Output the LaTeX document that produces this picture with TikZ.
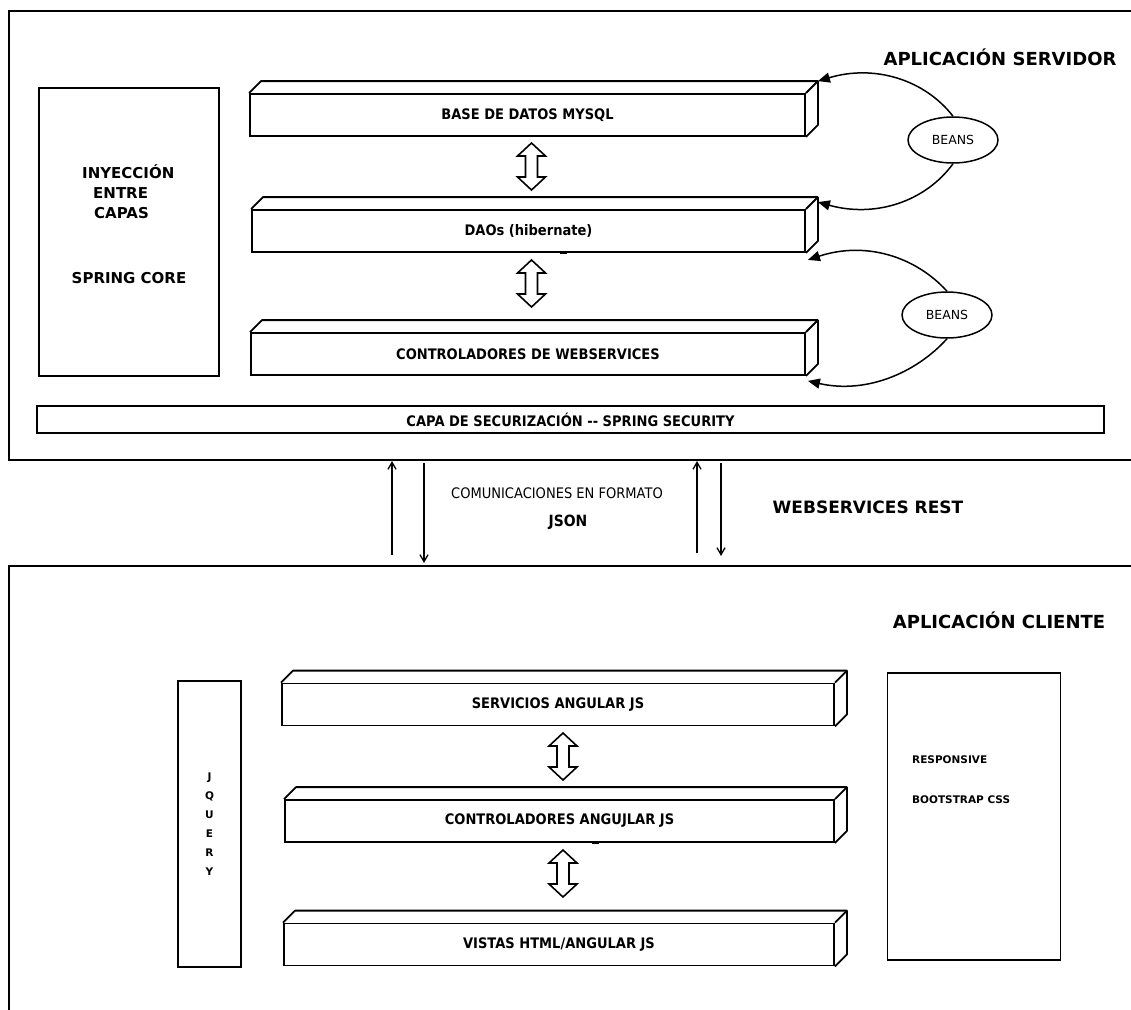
\documentclass[tikz,border=0pt]{standalone}
\usepackage{fontspec}
\setmainfont{DejaVu Sans}
\newfontfamily\condfont[FakeStretch=0.9]{DejaVu Sans}
\usetikzlibrary{arrows.meta,calc,shapes.geometric}
\newcommand{\slabbox}[5]{%
  \node[slab, minimum width=#4] (#1) at (#2,#3) {#5};
  \draw[slabline] (#1.north west) -- ++(12,-12) coordinate (#1-bl)
     -- ([shift={(12,-12)}]#1.north east) coordinate (#1-tr)
     -- ([shift={(12,-12)}]#1.south east) coordinate (#1-br)
     -- (#1.south east);
  \draw[slabline] (#1.north east) -- (#1-tr);
}
\newcommand{\dblarrow}[3]{%
  \draw[dblar] (#1,#2) -- (#1+14,#2+13) -- (#1+6,#2+13) -- (#1+6,#3-13) -- (#1+14,#3-13)
    -- (#1,#3) -- (#1-14,#3-13) -- (#1-6,#3-13) -- (#1-6,#2+13) -- (#1-14,#2+13) -- cycle;
}
\begin{document}
\begin{tikzpicture}[x=1pt,y=-1pt,
  outer/.style={line width=2.2pt},
  slab/.style={draw, line width=1.8pt, minimum height=42pt, inner sep=0pt, fill=white,
     font=\condfont\bfseries\fontsize{14.5pt}{16pt}\selectfont},
  slabline/.style={line width=1.8pt, line join=round},
  plainbox/.style={draw, line width=1.8pt, inner sep=0pt},
  lbl/.style={inner sep=0pt, font=\bfseries\fontsize{15pt}{18pt}\selectfont},
  small/.style={inner sep=0pt, font=\bfseries\fontsize{10.5pt}{19pt}\selectfont},
  title/.style={inner sep=0pt, font=\bfseries\fontsize{18pt}{21pt}\selectfont},
  beans/.style={ellipse, draw, line width=1.5pt, minimum width=90pt, minimum height=46pt,
     inner sep=0pt, font=\fontsize{12.5pt}{14pt}\selectfont},
  beanarc/.style={line width=1.5pt, -{Triangle[length=12pt,width=10pt]}},
  comm/.style={line width=1.3pt, -{Straight Barb[length=7pt,width=8pt]}},
  dblar/.style={line width=1.6pt, line join=miter, fill=white},
  tickmark/.style={line width=2.5pt}
]
\useasboundingbox (0,0) rectangle (1131,1009);
\fill[white] (0,0) rectangle (1131,1009);

% outer frames
\draw[outer] (1135,11) -- (9,11) coordinate (srvtl) -- (9,460) -- (1135,460);
\draw[outer] (1135,566) -- (9,566) coordinate (clitl) -- (9,1015);

% server side
\node[title] (srvtitle) at (1000,57) {APLICACIÓN SERVIDOR};
\node[plainbox, minimum width=180pt, minimum height=288pt] (inj) at (129,232) {};
\node[lbl, anchor=west] (inj1) at (82,172) {INYECCIÓN};
\node[lbl, anchor=west] (inj2) at (93,193) {ENTRE};
\node[lbl, anchor=west] (inj3) at (94,213) {CAPAS};
\node[lbl] (inj4) at (129,278) {SPRING CORE};

\slabbox{db}{527.5}{115}{555pt}{BASE DE DATOS MYSQL}
\slabbox{dao}{528.5}{231}{553pt}{DAOs (hibernate)}
\slabbox{ctl}{528}{354}{554pt}{CONTROLADORES DE WEBSERVICES}
\draw[tickmark] (560,252.5) -- (567,252.5);

\dblarrow{531.5}{143}{190}
\dblarrow{531.5}{260}{307}

\node[beans] (b1) at (953,140) {BEANS};
\node[beans] (b2) at (947,315) {BEANS};
\draw[beanarc] (b1.north) .. controls (925,80) and (875,64) .. (db-tr);
\draw[beanarc] (b1.south) .. controls (925,202) and (875,218) .. ([shift={(0,5)}]dao-tr);
\draw[beanarc] (b2.north) .. controls (915,256) and (865,241) .. ([shift={(2,7)}]dao.south east);
\draw[beanarc] (b2.south) .. controls (915,374) and (865,394) .. ([shift={(2,5)}]ctl.south east);

\node[plainbox, minimum width=1067pt, minimum height=27pt,
      font=\condfont\bfseries\fontsize{14.5pt}{16pt}\selectfont] (sec) at (570.5,419.5)
      {CAPA DE SECURIZACIÓN -{}- SPRING SECURITY};

% communication
\coordinate (u1s) at (392,555); \coordinate (u1e) at (392,461);
\coordinate (d1s) at (424,463); \coordinate (d1e) at (424,563);
\coordinate (u2s) at (697,553); \coordinate (u2e) at (697,461);
\coordinate (d2s) at (721,463); \coordinate (d2e) at (721,556);
\draw[comm] (u1s) -- (u1e);
\draw[comm] (d1s) -- (d1e);
\draw[comm] (u2s) -- (u2e);
\draw[comm] (d2s) -- (d2e);
\node[inner sep=0pt, font=\condfont\fontsize{14.5pt}{16pt}\selectfont] (comtxt) at (557,493) {COMUNICACIONES EN FORMATO};
\node[inner sep=0pt, font=\condfont\bfseries\fontsize{15.5pt}{18pt}\selectfont] (json) at (568,522) {JSON};
\node[inner sep=0pt, font=\bfseries\fontsize{17pt}{20pt}\selectfont] (wsrest) at (868,507) {WEBSERVICES REST};

% client side
\node[title] (clititle) at (999,620) {APLICACIÓN CLIENTE};
\node[plainbox, minimum width=63pt, minimum height=286pt, small, align=center] (jq) at (209.5,824)
   {J\\Q\\U\\E\\R\\Y};
\node[plainbox, minimum width=173pt, minimum height=287pt] (resp) at (974,816.5) {};
\node[small, anchor=west] (resp1) at (912,760) {RESPONSIVE};
\node[small, anchor=west] (resp2) at (912,800) {BOOTSTRAP CSS};

\slabbox{srv}{558}{704.5}{552pt}{SERVICIOS ANGULAR JS}
\slabbox{ctla}{559.5}{821}{549pt}{CONTROLADORES ANGUJLAR JS}
\slabbox{vis}{559}{944.5}{550pt}{VISTAS HTML/ANGULAR JS}
\draw[tickmark] (592,842.5) -- (599,842.5);

\dblarrow{563}{733}{780}
\dblarrow{563}{850}{897}
\end{tikzpicture}
\end{document}
